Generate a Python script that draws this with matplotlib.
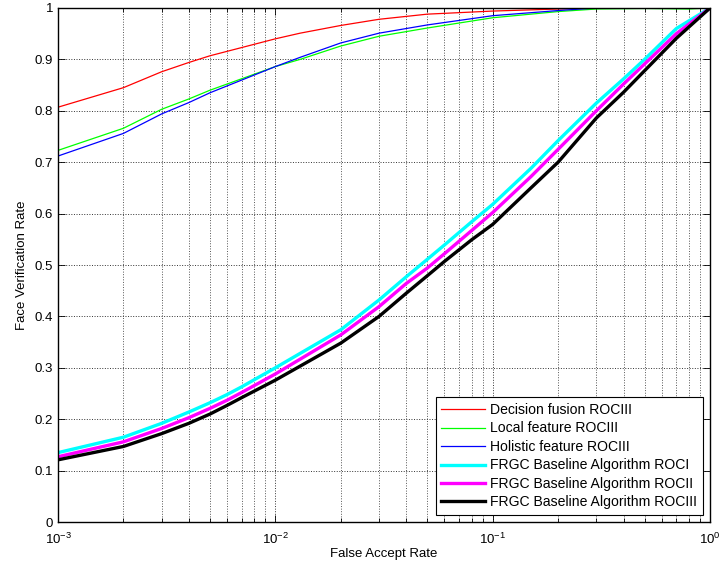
"""ROC curves: proposed fusion / local / holistic features against FRGC baseline
(MATLAB-like styling, log x axis)."""
import matplotlib
matplotlib.use("Agg")
import matplotlib.pyplot as plt  # noqa: E402
from matplotlib.ticker import LogLocator, NullFormatter, MultipleLocator  # noqa: E402

plt.rcParams.update({"font.family": ["Liberation Sans", "DejaVu Sans"],
                     "font.size": 9.5, "mathtext.fontset": "custom",
                     "mathtext.rm": "Liberation Sans", "mathtext.it": "Liberation Sans"})

# proposed methods, ROC III
far_top = [0.001, 0.002, 0.003, 0.004, 0.005, 0.01, 0.013, 0.02, 0.03, 0.05,
           0.1, 0.2, 0.3, 0.5, 0.8, 1.0]
fusion = [0.807, 0.845, 0.876, 0.894, 0.907, 0.940, 0.951, 0.966, 0.978, 0.988,
          0.994, 0.998, 1.0, 1.0, 1.0, 1.0]
local = [0.723, 0.766, 0.803, 0.823, 0.840, 0.886, 0.900, 0.926, 0.945, 0.961,
         0.981, 0.993, 0.998, 0.999, 0.998, 1.0]
holistic = [0.712, 0.756, 0.794, 0.816, 0.835, 0.886, 0.904, 0.932, 0.951, 0.967,
            0.985, 0.995, 1.0, 1.0, 1.0, 1.0]

# FRGC baseline
far_base = [0.001, 0.002, 0.003, 0.004, 0.005, 0.006, 0.007, 0.01, 0.02, 0.03,
            0.04, 0.05, 0.06, 0.08, 0.1, 0.15, 0.2, 0.3, 0.4, 0.5, 0.7, 1.0]
roc1 = [0.135, 0.165, 0.192, 0.214, 0.232, 0.248, 0.263, 0.300, 0.374, 0.432,
        0.477, 0.511, 0.539, 0.584, 0.618, 0.688, 0.742, 0.815, 0.862, 0.900,
        0.960, 1.0]
roc2 = [0.127, 0.156, 0.182, 0.203, 0.221, 0.237, 0.252, 0.288, 0.364, 0.419,
        0.464, 0.494, 0.522, 0.567, 0.602, 0.672, 0.725, 0.800, 0.852, 0.891,
        0.950, 1.0]
roc3 = [0.121, 0.147, 0.172, 0.192, 0.210, 0.227, 0.242, 0.276, 0.348, 0.400,
        0.445, 0.479, 0.507, 0.549, 0.579, 0.650, 0.700, 0.786, 0.836, 0.878,
        0.941, 1.0]

fig = plt.figure(figsize=(7.19, 5.66), dpi=100)
ax = fig.add_axes([0.0807, 0.0777, 0.9068, 0.9082])

ax.plot(far_top, fusion, color="#ff0000", lw=0.9, label="Decision fusion ROCIII")
ax.plot(far_top, local, color="#00ff00", lw=0.9, label="Local feature ROCIII")
ax.plot(far_top, holistic, color="#0000ff", lw=0.9, label="Holistic feature ROCIII")
ax.plot(far_base, roc1, color="#00ffff", lw=2.4, label="FRGC Baseline Algorithm ROCI")
ax.plot(far_base, roc2, color="#ff00ff", lw=2.4, label="FRGC Baseline Algorithm ROCII")
ax.plot(far_base, roc3, color="#000000", lw=2.4, label="FRGC Baseline Algorithm ROCIII")

ax.set_xscale("log")
ax.set_xlim(1e-3, 1)
ax.set_ylim(0, 1)
ax.yaxis.set_major_locator(MultipleLocator(0.1))
ax.yaxis.set_major_formatter(plt.FuncFormatter(lambda v, _: f"{v:g}"))
ax.xaxis.set_minor_locator(LogLocator(base=10, subs=range(2, 10)))
ax.xaxis.set_minor_formatter(NullFormatter())

ax.grid(True, which="major", ls=":", lw=0.7, color="#333333")
ax.grid(True, which="minor", axis="x", ls=":", lw=0.7, color="#555555")
ax.tick_params(which="both", direction="in", top=True, right=True, width=0.6)
ax.tick_params(which="major", length=5)
ax.tick_params(which="minor", length=3)
ax.tick_params(axis="x", pad=7)
for sp in ax.spines.values():
    sp.set_linewidth(1.0)

ax.set_xlabel("False Accept Rate", labelpad=1)
ax.set_ylabel("Face Verification Rate", labelpad=5)

leg = ax.legend(loc="lower right", fontsize=10.1, fancybox=False, framealpha=1,
                edgecolor="black", borderaxespad=0.5, handlelength=3.1,
                handletextpad=0.4, labelspacing=0.32, borderpad=0.4)
leg.get_frame().set_linewidth(0.8)

fig.savefig("out.png", dpi=100)
